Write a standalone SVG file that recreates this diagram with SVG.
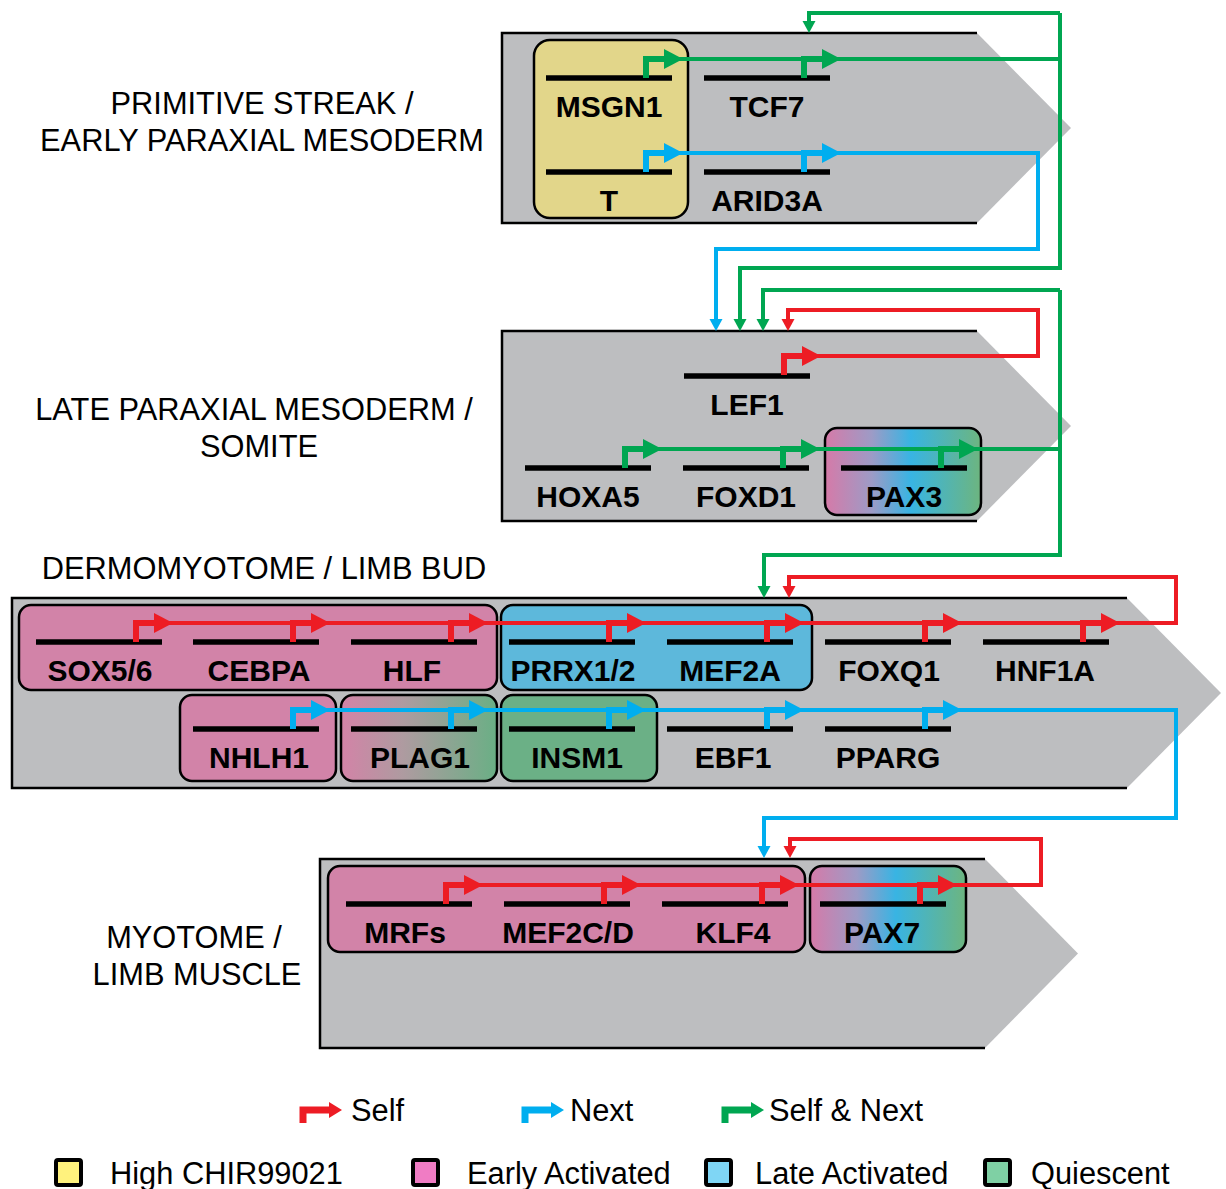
<svg xmlns="http://www.w3.org/2000/svg" xmlns:xlink="http://www.w3.org/1999/xlink" width="1226" height="1189" viewBox="0 0 1226 1189">
<style>
.sec{fill:#bdbec0;stroke:none}
.secb{fill:none;stroke:#000;stroke-width:2.5}
.box{stroke:#000;stroke-width:2.5}
.bar{stroke:#000;stroke-width:5.5}
.gl{font-family:"Liberation Sans",Arial,sans-serif;font-weight:bold;font-size:30px;text-anchor:middle;fill:#000}
.sl{font-family:"Liberation Sans",Arial,sans-serif;font-size:30.8px;text-anchor:middle;fill:#000}
.lg{font-family:"Liberation Sans",Arial,sans-serif;font-size:30.8px;fill:#000}
.con{fill:none;stroke-width:4;stroke-linejoin:miter}
.r{stroke:#ed1c24}.b{stroke:#00aeef}.g{stroke:#00a651}
.rf{fill:#ed1c24}.bf{fill:#00aeef}.gf{fill:#00a651}
</style>
<defs>
<g id="prom"><path d="M0,0 V-19 H19" fill="none" stroke="currentColor" stroke-width="6"/><polygon points="18,-29 18,-9 37,-19" fill="currentColor"/></g>
<g id="lprom"><path d="M0,13 V0 H27" fill="none" stroke="currentColor" stroke-width="7"/><polygon points="26,-8 26,8 39,0" fill="currentColor"/></g>
<polygon id="drop" points="-6.5,-12 6.5,-12 0,0"/>
<linearGradient id="gradPax" x1="0" y1="0" x2="1" y2="0">
<stop offset="0" stop-color="#d67aa8"/><stop offset="0.3" stop-color="#9d9bc6"/><stop offset="0.55" stop-color="#38b4e3"/><stop offset="1" stop-color="#6db57f"/>
</linearGradient>
<linearGradient id="gradPlag" x1="0" y1="0" x2="1" y2="0">
<stop offset="0" stop-color="#d383a7"/><stop offset="0.4" stop-color="#ae9ba0"/><stop offset="1" stop-color="#6aaf85"/>
</linearGradient>
</defs>
<rect width="1226" height="1189" fill="#fff"/>

<!-- stage sections -->
<g id="stage1">
<polygon class="sec" points="502,33 977,33 1071,128 977,223 502,223"/>
<polyline class="secb" points="977,33 502,33 502,223 977,223"/>
<text class="sl" x="262" y="114">PRIMITIVE STREAK /</text>
<text class="sl" x="262" y="151">EARLY PARAXIAL MESODERM</text>
</g>
<g id="stage2">
<polygon class="sec" points="502,331 977,331 1071,426 977,521 502,521"/>
<polyline class="secb" points="977,331 502,331 502,521 977,521"/>
<text class="sl" x="254" y="420">LATE PARAXIAL MESODERM /</text>
<text class="sl" x="259" y="457">SOMITE</text>
</g>
<g id="stage3">
<polygon class="sec" points="12,598 1127,598 1221,693 1127,788 12,788"/>
<polyline class="secb" points="1127,598 12,598 12,788 1127,788"/>
<text class="sl" x="264" y="579">DERMOMYOTOME / LIMB BUD</text>
</g>
<g id="stage4">
<polygon class="sec" points="320,859 985,859 1078,953.5 985,1048 320,1048"/>
<polyline class="secb" points="985,859 320,859 320,1048 985,1048"/>
<text class="sl" x="194" y="948">MYOTOME /</text>
<text class="sl" x="197" y="985">LIMB MUSCLE</text>
</g>

<!-- category boxes -->
<g id="box-high"><rect class="box" x="534" y="40" width="154" height="178" rx="16" fill="#e2d68a"/></g>
<g id="box-pax3"><rect class="box" x="825" y="428" width="156" height="87" rx="12" fill="url(#gradPax)"/></g>
<g id="box-early3"><rect class="box" x="19" y="605" width="478" height="85" rx="12" fill="#d283a8"/></g>
<g id="box-late3"><rect class="box" x="501" y="605" width="311" height="85" rx="12" fill="#5db8db"/></g>
<g id="box-nhlh1"><rect class="box" x="180" y="695" width="156" height="86" rx="12" fill="#d283a8"/></g>
<g id="box-plag1"><rect class="box" x="341" y="695" width="156" height="86" rx="12" fill="url(#gradPlag)"/></g>
<g id="box-insm1"><rect class="box" x="501" y="695" width="156" height="86" rx="12" fill="#6bb086"/></g>
<g id="box-early4"><rect class="box" x="328" y="866" width="477" height="86" rx="12" fill="#d283a8"/></g>
<g id="box-pax7"><rect class="box" x="810" y="866" width="156" height="86" rx="12" fill="url(#gradPax)"/></g>

<!-- connectors -->
<g id="connectors">
<path class="con g" d="M646,59 H1060 M1060,13 V268 H740 V320 M1060,13 H809 V22"/>
<use xlink:href="#drop" x="809" y="33" class="gf"/>
<use xlink:href="#drop" x="740" y="331" class="gf"/>
<path class="con b" d="M646,153 H1038 V249 H716 V320"/>
<use xlink:href="#drop" x="716" y="331" class="bf"/>
<path class="con r" d="M784,356 H1038 V310 H788 V320"/>
<use xlink:href="#drop" x="788" y="331" class="rf"/>
<path class="con g" d="M625,449 H1060 M1060,290 V555 H764 V587 M1060,290 H763 V320"/>
<use xlink:href="#drop" x="763" y="331" class="gf"/>
<use xlink:href="#drop" x="764" y="598" class="gf"/>
<path class="con r" d="M136,623 H1176 V577 H789 V587"/>
<use xlink:href="#drop" x="789" y="598" class="rf"/>
<path class="con b" d="M293,710 H1176 V818 H764 V847"/>
<use xlink:href="#drop" x="764" y="858" class="bf"/>
<path class="con r" d="M446,885 H1041 V839 H790 V847"/>
<use xlink:href="#drop" x="790" y="858" class="rf"/>
</g>

<!-- genes -->
<g id="MSGN1"><line class="bar" x1="546" y1="78" x2="672" y2="78"/><use xlink:href="#prom" x="646" y="78" color="#00a651"/><text class="gl" x="609" y="117">MSGN1</text></g>
<g id="TCF7"><line class="bar" x1="704" y1="78" x2="830" y2="78"/><use xlink:href="#prom" x="804" y="78" color="#00a651"/><text class="gl" x="767" y="117">TCF7</text></g>
<g id="T"><line class="bar" x1="546" y1="172" x2="672" y2="172"/><use xlink:href="#prom" x="646" y="172" color="#00aeef"/><text class="gl" x="609" y="211">T</text></g>
<g id="ARID3A"><line class="bar" x1="704" y1="172" x2="830" y2="172"/><use xlink:href="#prom" x="804" y="172" color="#00aeef"/><text class="gl" x="767" y="211">ARID3A</text></g>

<g id="LEF1"><line class="bar" x1="684" y1="376" x2="810" y2="376"/><use xlink:href="#prom" x="784" y="375" color="#ed1c24"/><text class="gl" x="747" y="415">LEF1</text></g>
<g id="HOXA5"><line class="bar" x1="525" y1="468" x2="651" y2="468"/><use xlink:href="#prom" x="625" y="468" color="#00a651"/><text class="gl" x="588" y="507">HOXA5</text></g>
<g id="FOXD1"><line class="bar" x1="683" y1="468" x2="809" y2="468"/><use xlink:href="#prom" x="783" y="468" color="#00a651"/><text class="gl" x="746" y="507">FOXD1</text></g>
<g id="PAX3"><line class="bar" x1="841" y1="468" x2="967" y2="468"/><use xlink:href="#prom" x="941" y="468" color="#00a651"/><text class="gl" x="904" y="507">PAX3</text></g>

<g id="SOX5_6"><line class="bar" x1="36" y1="642" x2="162" y2="642"/><use xlink:href="#prom" x="136" y="642" color="#ed1c24"/><text class="gl" x="100" y="681">SOX5/6</text></g>
<g id="CEBPA"><line class="bar" x1="193" y1="642" x2="319" y2="642"/><use xlink:href="#prom" x="293" y="642" color="#ed1c24"/><text class="gl" x="259" y="681">CEBPA</text></g>
<g id="HLF"><line class="bar" x1="351" y1="642" x2="477" y2="642"/><use xlink:href="#prom" x="451" y="642" color="#ed1c24"/><text class="gl" x="412" y="681">HLF</text></g>
<g id="PRRX1_2"><line class="bar" x1="509" y1="642" x2="635" y2="642"/><use xlink:href="#prom" x="609" y="642" color="#ed1c24"/><text class="gl" x="573" y="681">PRRX1/2</text></g>
<g id="MEF2A"><line class="bar" x1="667" y1="642" x2="793" y2="642"/><use xlink:href="#prom" x="767" y="642" color="#ed1c24"/><text class="gl" x="730" y="681">MEF2A</text></g>
<g id="FOXQ1"><line class="bar" x1="825" y1="642" x2="951" y2="642"/><use xlink:href="#prom" x="925" y="642" color="#ed1c24"/><text class="gl" x="889" y="681">FOXQ1</text></g>
<g id="HNF1A"><line class="bar" x1="983" y1="642" x2="1109" y2="642"/><use xlink:href="#prom" x="1083" y="642" color="#ed1c24"/><text class="gl" x="1045" y="681">HNF1A</text></g>

<g id="NHLH1"><line class="bar" x1="193" y1="729" x2="319" y2="729"/><use xlink:href="#prom" x="293" y="729" color="#00aeef"/><text class="gl" x="259" y="768">NHLH1</text></g>
<g id="PLAG1"><line class="bar" x1="351" y1="729" x2="477" y2="729"/><use xlink:href="#prom" x="451" y="729" color="#00aeef"/><text class="gl" x="420" y="768">PLAG1</text></g>
<g id="INSM1"><line class="bar" x1="509" y1="729" x2="635" y2="729"/><use xlink:href="#prom" x="609" y="729" color="#00aeef"/><text class="gl" x="577" y="768">INSM1</text></g>
<g id="EBF1"><line class="bar" x1="667" y1="729" x2="793" y2="729"/><use xlink:href="#prom" x="767" y="729" color="#00aeef"/><text class="gl" x="733" y="768">EBF1</text></g>
<g id="PPARG"><line class="bar" x1="825" y1="729" x2="951" y2="729"/><use xlink:href="#prom" x="925" y="729" color="#00aeef"/><text class="gl" x="888" y="768">PPARG</text></g>

<g id="MRFs"><line class="bar" x1="346" y1="904" x2="472" y2="904"/><use xlink:href="#prom" x="446" y="904" color="#ed1c24"/><text class="gl" x="405" y="943">MRFs</text></g>
<g id="MEF2CD"><line class="bar" x1="504" y1="904" x2="630" y2="904"/><use xlink:href="#prom" x="604" y="904" color="#ed1c24"/><text class="gl" x="568" y="943">MEF2C/D</text></g>
<g id="KLF4"><line class="bar" x1="662" y1="904" x2="788" y2="904"/><use xlink:href="#prom" x="762" y="904" color="#ed1c24"/><text class="gl" x="733" y="943">KLF4</text></g>
<g id="PAX7"><line class="bar" x1="820" y1="904" x2="946" y2="904"/><use xlink:href="#prom" x="920" y="904" color="#ed1c24"/><text class="gl" x="882" y="943">PAX7</text></g>

<!-- legend -->
<g id="legend">
<use xlink:href="#lprom" x="303" y="1110" color="#ed1c24"/><text class="lg" x="351" y="1121">Self</text>
<use xlink:href="#lprom" x="525" y="1110" color="#00aeef"/><text class="lg" x="570" y="1121">Next</text>
<use xlink:href="#lprom" x="725" y="1110" color="#00a651"/><text class="lg" x="769" y="1121">Self &amp; Next</text>
<rect x="56" y="1160" width="25" height="25" fill="#fff27d" stroke="#000" stroke-width="4" rx="2"/><text class="lg" x="110" y="1184">High CHIR99021</text>
<rect x="413" y="1160" width="25" height="25" fill="#f07cc4" stroke="#000" stroke-width="4" rx="2"/><text class="lg" x="467" y="1184">Early Activated</text>
<rect x="706" y="1160" width="25" height="25" fill="#7fd6f5" stroke="#000" stroke-width="4" rx="2"/><text class="lg" x="755" y="1184">Late Activated</text>
<rect x="985" y="1160" width="25" height="25" fill="#7fd0a4" stroke="#000" stroke-width="4" rx="2"/><text class="lg" x="1031" y="1184">Quiescent</text>
</g>
</svg>
